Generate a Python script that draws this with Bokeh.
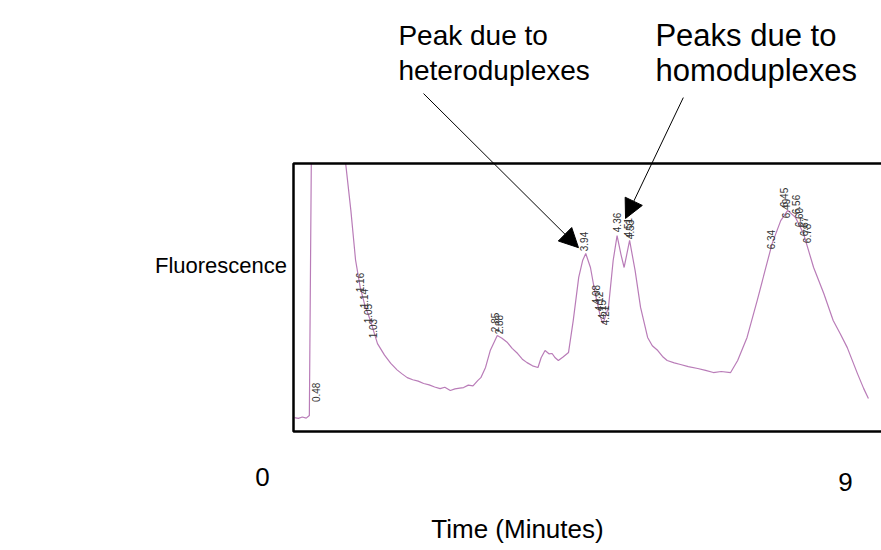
from bokeh.plotting import figure
from bokeh.models import ColumnDataSource, Range1d, Label, Arrow, NormalHead
from bokeh.core.properties import value
from bokeh.embed import file_html
from bokeh.resources import INLINE
import math

# ---- data (time in minutes, fluorescence in arbitrary units; values above 100 are off-scale) ----
times = [0.25, 0.30, 0.35, 0.40, 0.44, 0.47, 0.48, 0.55, 0.70, 0.90, 0.97, 1.03, 1.09, 1.15,
         1.22, 1.31, 1.40, 1.48, 1.56, 1.62, 1.69, 1.76, 1.83, 1.90, 1.97, 2.04, 2.11, 2.17,
         2.24, 2.30, 2.36, 2.41, 2.47, 2.53, 2.59, 2.63, 2.69, 2.75, 2.84, 2.90, 2.97, 3.03,
         3.10, 3.16, 3.22, 3.29, 3.36, 3.40, 3.45, 3.50, 3.54, 3.58, 3.62, 3.68, 3.75, 3.81,
         3.88, 3.93, 3.97, 4.03, 4.09, 4.16, 4.19, 4.26, 4.32, 4.37, 4.42, 4.46, 4.53, 4.60,
         4.67, 4.76, 4.82, 4.89, 4.95, 5.01, 5.10, 5.18, 5.28, 5.40, 5.50, 5.60, 5.70, 5.82,
         5.91, 6.03, 6.16, 6.26, 6.35, 6.46, 6.55, 6.65, 6.75, 6.88, 7.01, 7.13, 7.22, 7.31,
         7.44, 7.52, 7.58]
fluorescence = [5.2, 4.9, 5.4, 5.0, 6.0, 120, 160, 150, 125, 101, 82.5, 64.0, 53.7, 47.0,
                41.4, 32.8, 28.5, 25.4, 23.0, 21.6, 20.1, 19.3, 18.8, 17.9, 17.4, 16.6, 16.0, 16.5,
                15.3, 15.9, 16.2, 16.4, 17.3, 17.0, 19.0, 20.1, 23.9, 30.2, 35.8, 34.8, 33.2, 31.0,
                29.1, 27.0, 25.7, 24.5, 23.9, 27.5, 30.2, 29.0, 29.1, 27.5, 26.5, 27.8, 29.5, 41.4,
                57.5, 63.8, 66.4, 61.2, 51.5, 42.5, 40.3, 46.3, 63.8, 73.1, 66.0, 61.2, 71.3, 60.1,
                46.3, 35.1, 32.0, 30.2, 28.0, 26.5, 25.6, 25.0, 24.2, 23.5, 22.8, 22.0, 22.4, 22.0,
                26.5, 35.1, 48.9, 60.1, 70.1, 78.7, 82.5, 79.8, 73.9, 61.2, 51.5, 41.4, 36.5, 31.3,
                21.6, 16.0, 12.3]

# peak retention-time labels printed by the instrument (label text, time, height)
peak_texts = ["0.48", "1.16", "1.14", "1.05", "1.03", "2.85", "2.88", "3.94",
              "4.08", "4.12", "4.15", "4.21", "4.36", "4.51", "4.53",
              "6.34", "6.45", "6.49", "6.56", "6.60", "6.67", "6.78"]
peak_times = [0.519, 1.093, 1.144, 1.195, 1.259, 2.817, 2.856, 3.953,
              4.107, 4.145, 4.183, 4.222, 4.375, 4.515, 4.541,
              6.330, 6.496, 6.521, 6.649, 6.687, 6.751, 6.790]
peak_levels = [14.6, 55.6, 49.6, 44.0, 38.4, 40.7, 39.9, 70.9,
               51.1, 48.5, 45.5, 43.3, 78.0, 76.1, 75.4,
               71.6, 87.3, 83.2, 84.7, 79.8, 76.5, 73.9]

axis_end_labels = ["0", "9"]
callouts = ["Peak due to", "heteroduplexes", "Peaks due to", "homoduplexes"]

# chart box in data units (right side runs off the page)
BOX_L, BOX_R, BOX_B, BOX_T = 0.2375, 8.2, 0.0, 100.0

p = figure(width=881, height=550, output_backend="svg", toolbar_location=None,
           x_range=Range1d(-3.5045, 7.747), y_range=Range1d(-44.40, 160.82),
           x_axis_location=None, y_axis_location=None,
           min_border=0, min_border_left=0, min_border_right=0,
           min_border_top=0, min_border_bottom=0)
p.grid.visible = False
p.outline_line_color = None
p.background_fill_color = "white"
p.border_fill_color = "white"

src = ColumnDataSource(dict(t=times, f=fluorescence))
p.line("t", "f", source=src, line_color="#b97cb8", line_width=1.2)

# mask the off-scale part of the trace above the box
p.quad(left=BOX_L - 0.05, right=BOX_R, bottom=BOX_T, top=200, fill_color="white",
       line_color=None)
# box frame
p.quad(left=BOX_L, right=BOX_R, bottom=BOX_B, top=BOX_T, fill_color=None,
       line_color="black", line_width=2.5)

lab = ColumnDataSource(dict(t=peak_times, y=peak_levels, txt=peak_texts))
p.text("t", "y", text="txt", source=lab, angle=math.pi / 2, text_align="center",
       text_baseline="middle", text_font_size="10px", text_color="#333333",
       text_font=value("Liberation Sans"))

font = "Liberation Sans"
def add_label(x, y, text, size, align="left", baseline="alphabetic"):
    p.add_layout(Label(x=x, y=y, text=text, text_align=align, text_baseline=baseline,
                       text_font=font, text_font_size=size, text_color="black"))

add_label(1.577, 147.8, callouts[0], "28px")
add_label(1.577, 134.7, callouts[1], "28px")
add_label(4.860, 147.8, callouts[2], "31px")
add_label(4.860, 134.7, callouts[3], "31px")
add_label(0.155, 61.9, "Fluorescence", "22px", align="right", baseline="middle")
add_label(-0.158, -16.8, axis_end_labels[0], "26px", align="center", baseline="middle")
add_label(7.287, -18.7, axis_end_labels[1], "26px", align="center", baseline="middle")
add_label(3.098, -36.2, "Time (Minutes)", "26px", align="center", baseline="middle")

p.add_layout(Arrow(end=NormalHead(size=19, fill_color="black", line_color="black"),
                   x_start=1.898, y_start=126.1, x_end=3.877, y_end=68.6,
                   line_color="black", line_width=1))
p.add_layout(Arrow(end=NormalHead(size=19, fill_color="black", line_color="black"),
                   x_start=5.216, y_start=124.6, x_end=4.478, y_end=79.5,
                   line_color="black", line_width=1))

open("out.html", "w").write(file_html(p, INLINE))
